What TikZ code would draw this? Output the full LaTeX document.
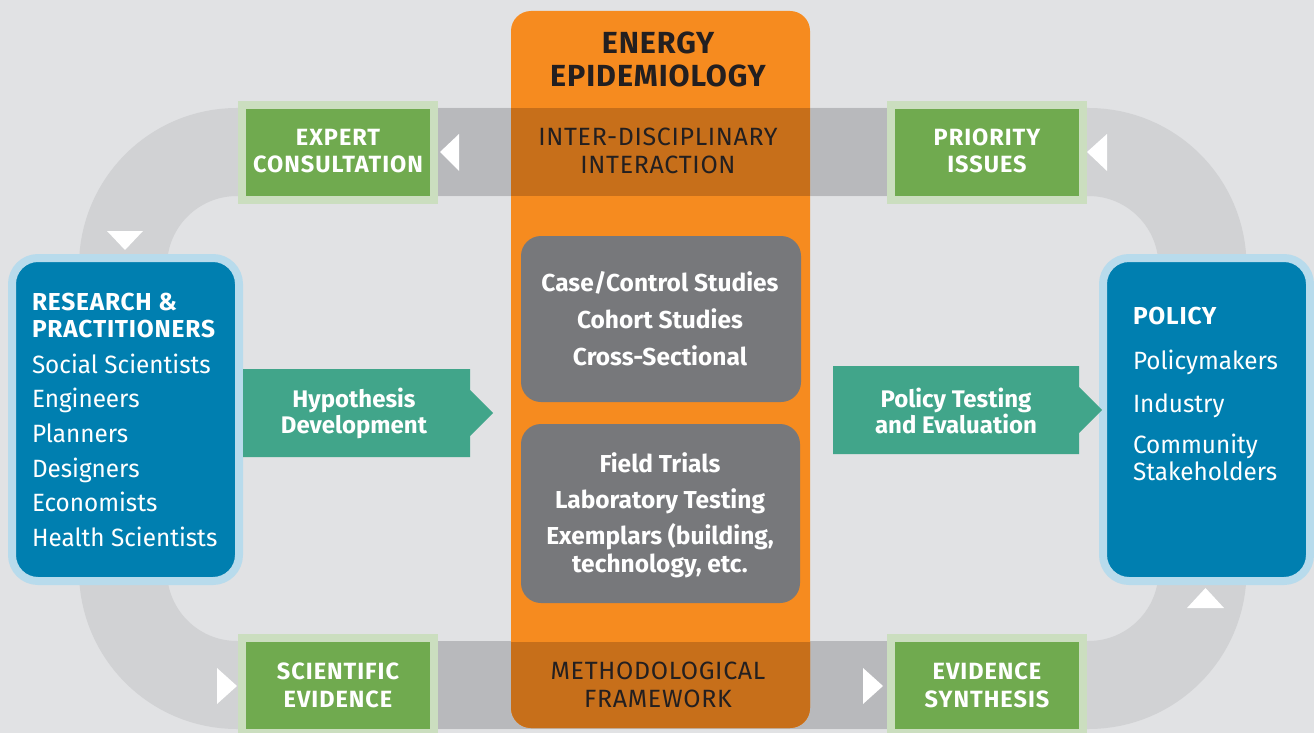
\documentclass[tikz,border=0pt]{standalone}
\usepackage{fontspec}
\setmainfont{Fira Sans}
\newfontfamily\ffTitle[LetterSpace=3]{Fira Sans}
\newfontfamily\ffGreen[LetterSpace=4.2]{Fira Sans}
\newfontfamily\ffHead[LetterSpace=3.2]{Fira Sans}
\newfontfamily\ffBand[LetterSpace=2.7]{Fira Sans}
\newfontfamily\ffList[FakeStretch=0.972]{Fira Sans}
\definecolor{bgc}{HTML}{E1E2E4}
\definecolor{trackL}{HTML}{D1D2D4}
\definecolor{trackD}{HTML}{B8B9BC}
\definecolor{orangeC}{HTML}{F68B1F}
\definecolor{orangeD}{HTML}{C76F1A}
\definecolor{greenC}{HTML}{70AA4F}
\definecolor{greenL}{HTML}{CBDEBF}
\definecolor{blueC}{HTML}{007FB0}
\definecolor{blueL}{HTML}{B8DBEC}
\definecolor{tealC}{HTML}{41A58A}
\definecolor{grayC}{HTML}{77787B}
\definecolor{darkT}{HTML}{231F20}
\tikzset{
  txt/.style={anchor=base, inner sep=0pt, outer sep=0pt},
  titletxt/.style={txt, text=darkT, font=\ffTitle\bfseries\fontsize{30.5}{30.5}\selectfont},
  bandtxt/.style={txt, text=darkT, font=\ffBand\fontsize{25}{25}\selectfont},
  greentxt/.style={txt, text=white, font=\ffGreen\bfseries\fontsize{23.5}{23.5}\selectfont},
  graytxt/.style={txt, text=white, font=\bfseries\fontsize{24.5}{24.5}\selectfont},
  headtxt/.style={txt, anchor=base west, text=white, font=\ffHead\bfseries\fontsize{24.5}{24.5}\selectfont},
  listtxt/.style={txt, anchor=base west, text=white, font=\ffList\fontsize{25}{25}\selectfont},
  tealtxt/.style={txt, text=white, font=\bfseries\fontsize{24}{24}\selectfont},
  greenbox/.style={fill=greenC, draw=greenL, line width=8pt, minimum width=192pt, minimum height=95pt, inner sep=0pt},
  bluebox/.style={fill=blueC, draw=blueL, line width=8pt, rounded corners=26pt, minimum height=323pt, inner sep=0pt},
  graybox/.style={fill=grayC, rounded corners=20pt, inner sep=0pt},
  tri/.style={fill=white},
  teal/.style={fill=tealC}
}
\begin{document}
\begin{tikzpicture}[x=1pt,y=-1pt]
\useasboundingbox (0,0) rectangle (1314,733);
\fill[bgc] (0,0) rectangle (1314,733);
% loop track
\draw[trackL, line width=88pt, rounded corners=114pt] (123,152) rectangle (1202.5,685);
\fill[trackD] (430,108) rectangle (895,196);
\fill[trackD] (430,641) rectangle (895,729);
% orange column
\fill[orangeC, rounded corners=20pt] (511,11) rectangle (810,728);
\fill[orangeD] (511,108) rectangle (810,196);
\begin{scope}
  \clip (511,642) rectangle (810,733);
  \fill[orangeD, rounded corners=20pt] (511,11) rectangle (810,728);
\end{scope}
% green boxes
\node[greenbox] (expert) at (338,152.5) {};
\node[greenbox] (priority) at (987,152.5) {};
\node[greenbox] (scientific) at (338,685.5) {};
\node[greenbox] (synthesis) at (987,685.5) {};
% blue boxes
\node[bluebox, minimum width=227pt] (research) at (125.5,419.5) {};
\node[bluebox, minimum width=207pt] (policy) at (1206.5,419.5) {};
% gray boxes
\node[graybox, minimum width=280pt, minimum height=166pt] (studies) at (661,319) {};
\node[graybox, minimum width=279pt, minimum height=179pt] (trials) at (660.5,513.5) {};
% teal arrows
\fill[teal] (243,369) -- (470,369) -- (470,390) -- (493,413) -- (470,436) -- (470,457) -- (243,457) -- cycle;
\fill[teal] (833,366) -- (1079,366) -- (1079,387) -- (1102,410) -- (1079,433) -- (1079,454) -- (833,454) -- cycle;
% small triangles
\fill[tri] (440,152) -- (459,134) -- (459,171) -- cycle;
\fill[tri] (1087,152) -- (1107,134) -- (1107,171) -- cycle;
\fill[tri] (217,668) -- (217,704) -- (237,686) -- cycle;
\fill[tri] (863,668) -- (863,704) -- (883,686) -- cycle;
\fill[tri] (107,231) -- (143,231) -- (125,250) -- cycle;
\fill[tri] (1187,608) -- (1224,608) -- (1205.5,588) -- cycle;
% orange column texts
\node[titletxt] (t1) at (658,54) {ENERGY};
\node[titletxt] (t2) at (658,87) {EPIDEMIOLOGY};
\node[bandtxt] (t3) at (658,146) {INTER-DISCIPLINARY};
\node[bandtxt] (t4) at (658,173) {INTERACTION};
\node[bandtxt] (t5) at (658,679) {METHODOLOGICAL};
\node[bandtxt] (t6) at (658,707) {FRAMEWORK};
% green texts
\node[greentxt] (g1) at (338,146) {EXPERT};
\node[greentxt] (g2) at (338,172) {CONSULTATION};
\node[greentxt] (g3) at (987,146) {PRIORITY};
\node[greentxt] (g4) at (987,172) {ISSUES};
\node[greentxt] (g5) at (338,679) {SCIENTIFIC};
\node[greentxt] (g6) at (338,707) {EVIDENCE};
\node[greentxt] (g7) at (987,679) {EVIDENCE};
\node[greentxt] (g8) at (987,707) {SYNTHESIS};
% gray box texts
\node[graytxt] (s1) at (660,291) {Case/Control Studies};
\node[graytxt] (s2) at (660,328) {Cohort Studies};
\node[graytxt] (s3) at (660,365) {Cross-Sectional};
\node[graytxt] (s4) at (660,472) {Field Trials};
\node[graytxt] (s5) at (660,508) {Laboratory Testing};
\node[graytxt] (s6) at (660,544) {Exemplars (building,};
\node[graytxt] (s7) at (660,572) {technology, etc.};
% research box texts
\node[headtxt] (r1) at (32,310) {RESEARCH \&};
\node[headtxt] (r2) at (32,337) {PRACTITIONERS};
\node[listtxt] (r3) at (32,373) {Social Scientists};
\node[listtxt] (r4) at (32,407) {Engineers};
\node[listtxt] (r5) at (32,442) {Planners};
\node[listtxt] (r6) at (32,477) {Designers};
\node[listtxt] (r7) at (32,511) {Economists};
\node[listtxt] (r8) at (32,546) {Health Scientists};
% policy box texts
\node[headtxt] (p1) at (1133,324) {POLICY};
\node[listtxt] (p2) at (1133,369) {Policymakers};
\node[listtxt] (p3) at (1133,412) {Industry};
\node[listtxt] (p4) at (1133,453) {Community};
\node[listtxt] (p5) at (1133,480) {Stakeholders};
% teal texts
\node[tealtxt] (h1) at (354,407) {Hypothesis};
\node[tealtxt] (h2) at (354,433) {Development};
\node[tealtxt] (e1) at (956,407) {Policy Testing};
\node[tealtxt] (e2) at (956,433) {and Evaluation};
\end{tikzpicture}
\end{document}
